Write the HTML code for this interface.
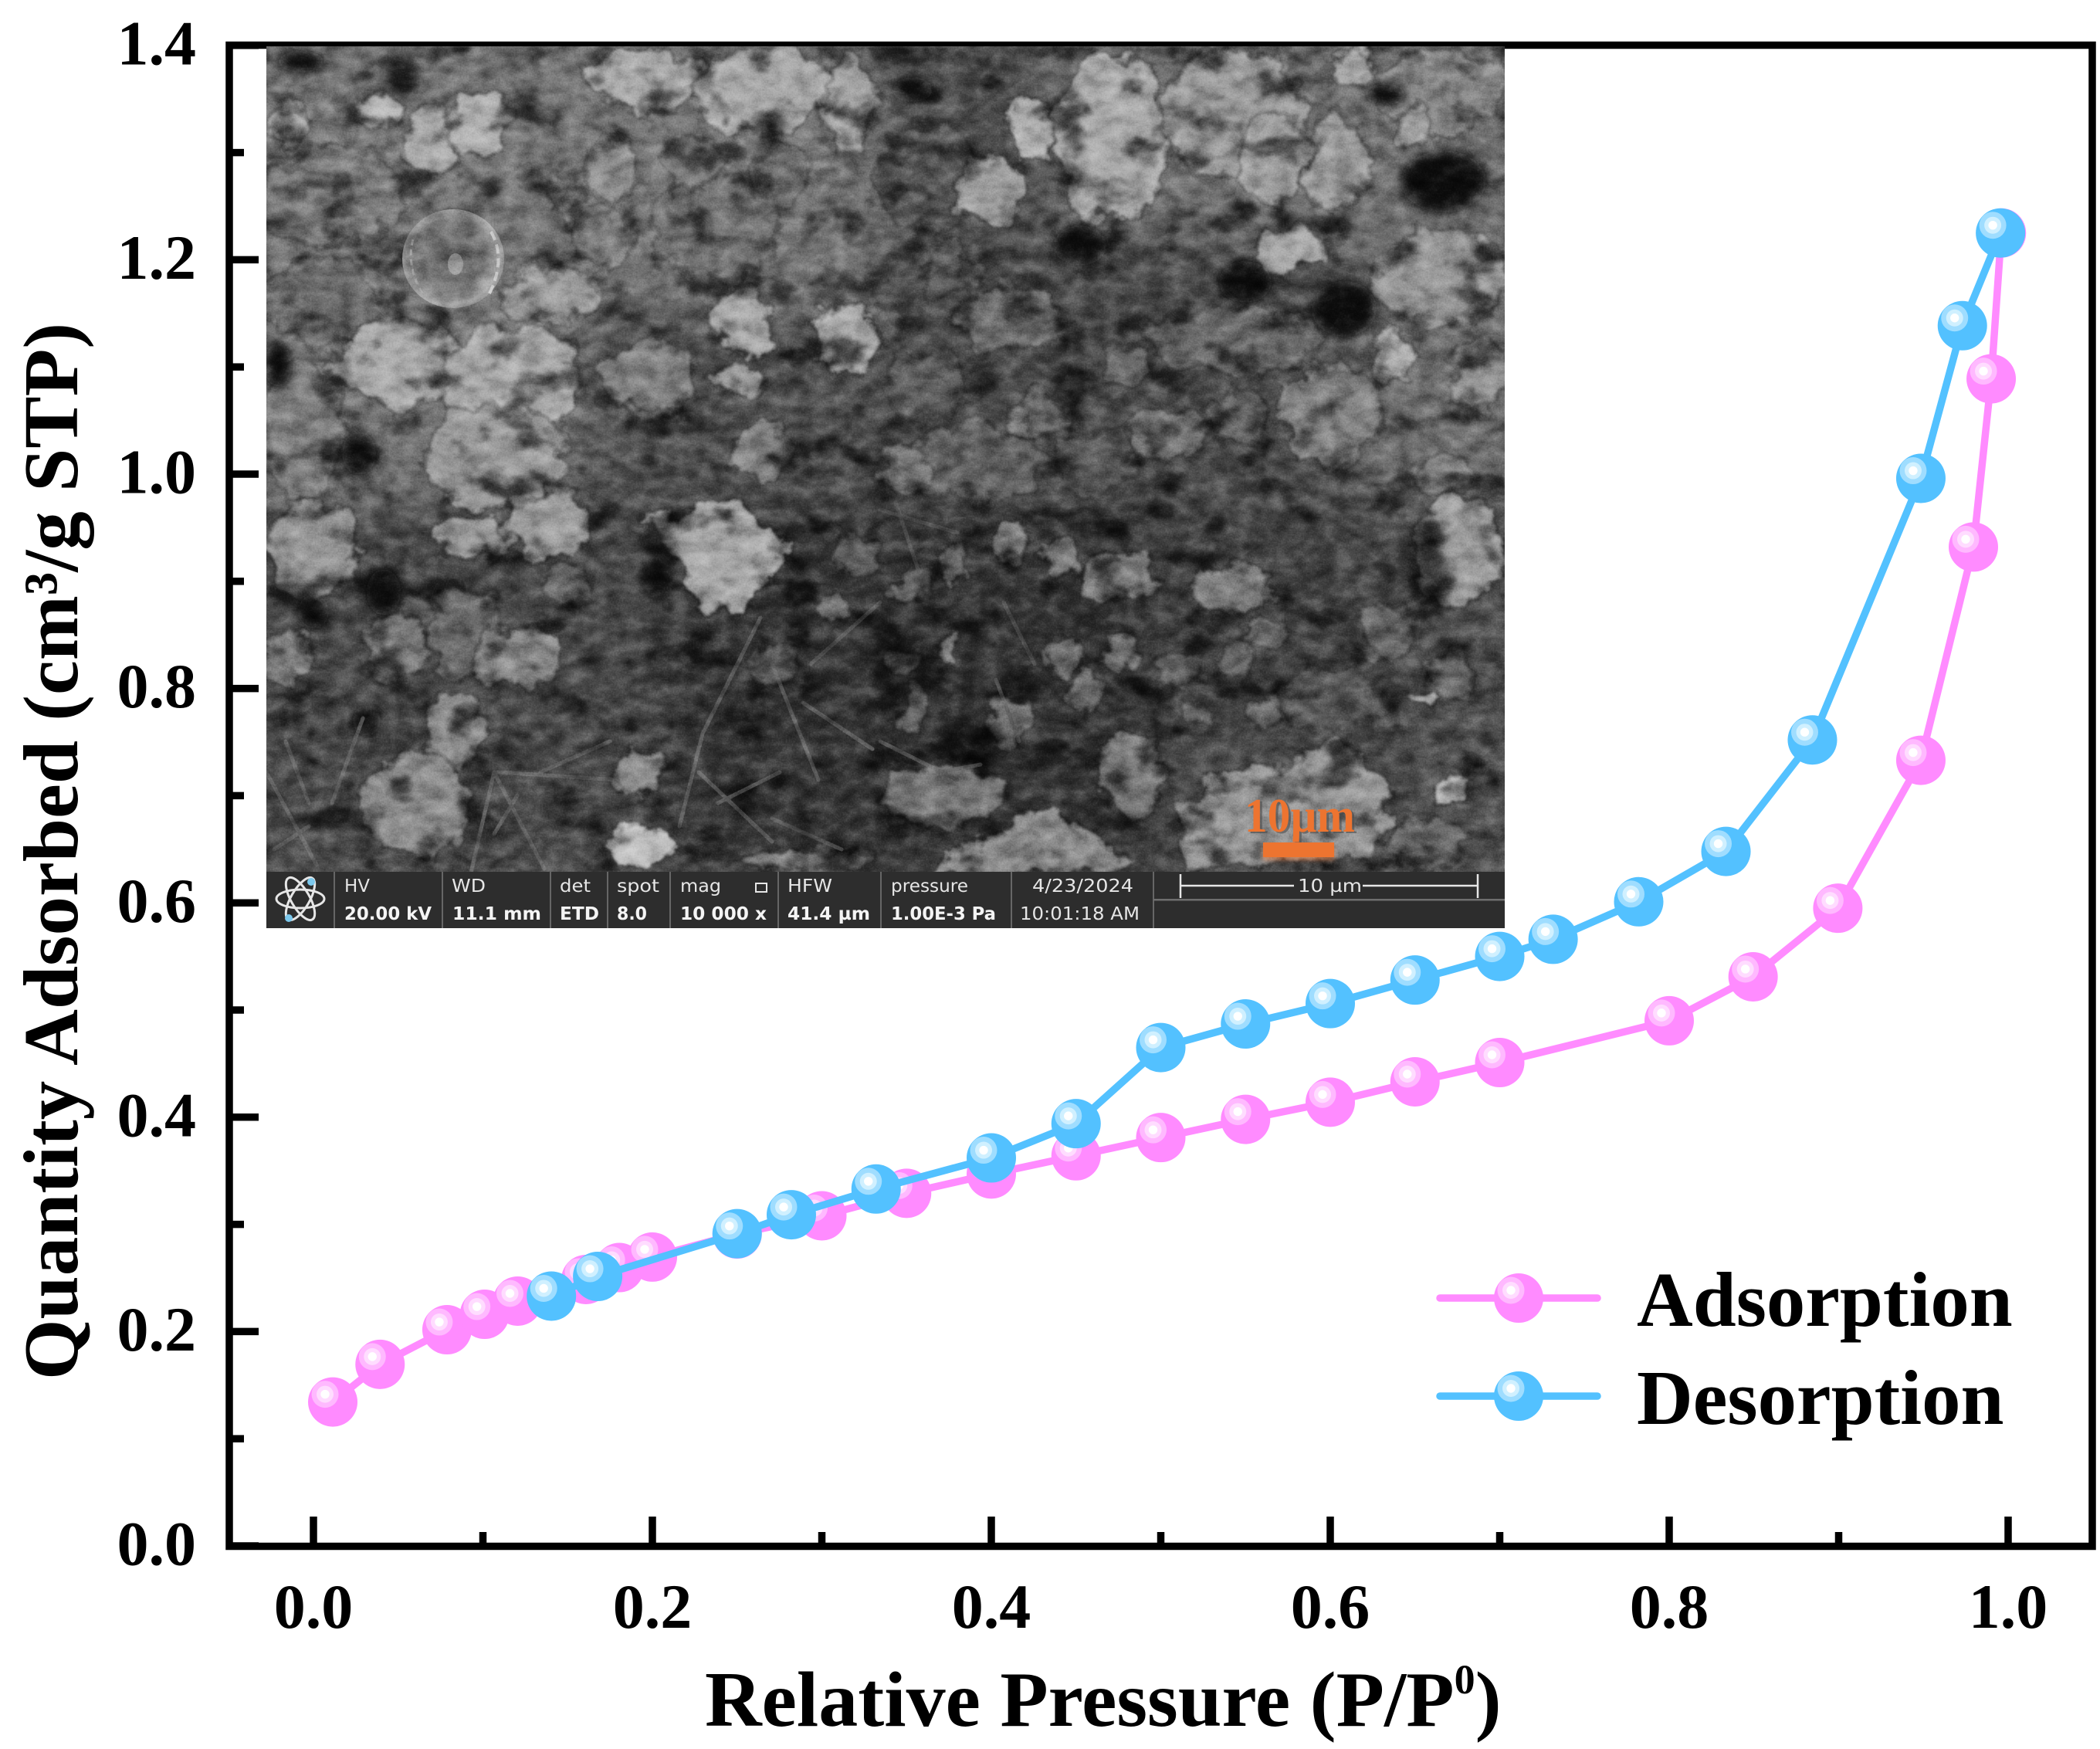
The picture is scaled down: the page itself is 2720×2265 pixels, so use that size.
<!DOCTYPE html>
<html lang="en">
<head>
<meta charset="utf-8">
<title>N2 adsorption-desorption isotherm with SEM inset</title>
<style>
html,body{margin:0;padding:0;background:#fff;width:2720px;height:2265px;overflow:hidden}
svg{display:block}
.serif{font-family:"Liberation Serif",serif;font-weight:bold;fill:#000}
.ban{font-family:"DejaVu Sans","Liberation Sans",sans-serif;fill:#e6e6e6;font-size:23px}
.banb{font-family:"DejaVu Sans","Liberation Sans",sans-serif;fill:#f4f4f4;font-size:23px;font-weight:bold}
</style>
</head>
<body>
<svg id="chart" xmlns="http://www.w3.org/2000/svg" width="2720" height="2265" viewBox="0 0 2720 2265">
<defs>
  <clipPath id="semClip"><rect x="345" y="60" width="1604" height="1069"/></clipPath>
  <radialGradient id="sphereShade" cx="46%" cy="46%" r="56%">
    <stop offset="0%" stop-color="#5e5e5e"/>
    <stop offset="62%" stop-color="#777777"/>
    <stop offset="90%" stop-color="#a4a4a4"/>
    <stop offset="100%" stop-color="#8c8c8c"/>
  </radialGradient>
  <filter id="zoneBlur" x="-20%" y="-20%" width="140%" height="140%"><feGaussianBlur stdDeviation="32"/></filter>
  <filter id="rough" x="0" y="0" width="100%" height="100%" filterUnits="userSpaceOnUse" primitiveUnits="userSpaceOnUse" color-interpolation-filters="sRGB">
    <feTurbulence type="fractalNoise" baseFrequency="0.028" numOctaves="5" seed="7" result="n"/>
    <feDisplacementMap in="SourceGraphic" in2="n" scale="46" xChannelSelector="R" yChannelSelector="G"/>
    <feGaussianBlur stdDeviation="1.4"/>
  </filter>
  <filter id="mottle" x="0" y="0" width="100%" height="100%" color-interpolation-filters="sRGB">
    <feTurbulence type="fractalNoise" baseFrequency="0.037 0.053" numOctaves="4" seed="11"/>
    <feColorMatrix type="matrix" values="1.5 0 0 0 -0.25  1.5 0 0 0 -0.25  1.5 0 0 0 -0.25  0 0 0 0 1"/>
  </filter>
  <filter id="crevice" x="0" y="0" width="100%" height="100%" color-interpolation-filters="sRGB">
    <feTurbulence type="fractalNoise" baseFrequency="0.017 0.023" numOctaves="4" seed="23"/>
    <feColorMatrix type="matrix" values="4.5 0 0 0 -1.1  4.5 0 0 0 -1.1  4.5 0 0 0 -1.1  0 0 0 0 1"/>
    <feGaussianBlur stdDeviation="1.5"/>
  </filter>
  <filter id="grain" x="0" y="0" width="100%" height="100%" color-interpolation-filters="sRGB">
    <feTurbulence type="fractalNoise" baseFrequency="0.5" numOctaves="2" seed="3"/>
    <feColorMatrix type="matrix" values="1.4 0 0 0 -0.2  1.4 0 0 0 -0.2  1.4 0 0 0 -0.2  0 0 0 0 1"/>
  </filter>
  <filter id="softHole" x="-30%" y="-30%" width="160%" height="160%"><feGaussianBlur stdDeviation="7"/></filter>
  <filter id="barGlow" x="-20%" y="-40%" width="140%" height="200%"><feGaussianBlur stdDeviation="3"/></filter>
</defs>

<rect x="0" y="0" width="2720" height="2265" fill="#ffffff"/>
<rect x="297" y="58.5" width="2413" height="1944" fill="none" stroke="#000" stroke-width="9.5"/>
<g id="ticks"></g>
<g id="tickLabels"></g>

<text class="serif" font-size="101" transform="translate(100,1787) rotate(-90)" textLength="1369" lengthAdjust="spacing">Quantity Adsorbed (cm³/g STP)</text>
<text class="serif" font-size="102" x="913" y="2235">Relative Pressure (P/P<tspan font-size="54" dy="-42">0</tspan><tspan dy="42">)</tspan></text>

<g clip-path="url(#semClip)">
  <rect x="345" y="60" width="1604" height="1069" fill="#505050"/>
  <g filter="url(#zoneBlur)">
    <rect x="300" y="40" width="460" height="600" fill="#747474"/>
    <rect x="760" y="40" width="380" height="360" fill="#767676"/>
    <rect x="1140" y="40" width="220" height="260" fill="#505050"/>
    <rect x="1360" y="40" width="620" height="260" fill="#707070"/>
    <rect x="1140" y="300" width="620" height="340" fill="#4c4c4c"/>
    <rect x="1760" y="300" width="220" height="340" fill="#707070"/>
    <rect x="300" y="640" width="560" height="500" fill="#4a4a4a"/>
    <rect x="860" y="660" width="640" height="470" fill="#343434"/>
    <rect x="1500" y="660" width="300" height="300" fill="#424242"/>
    <rect x="1800" y="640" width="180" height="500" fill="#505050"/>
  </g>
  <g filter="url(#rough)" stroke="#000" stroke-opacity=".22" stroke-width="7">
    <!-- mid-tone masses -->
    <ellipse cx="428" cy="254" rx="92" ry="66" fill="#7c7c7c"/>
    <ellipse cx="416" cy="390" rx="80" ry="50" fill="#6c6c6c"/>
    <ellipse cx="391" cy="556" rx="55" ry="90" fill="#7e7e7e"/>
    <ellipse cx="927" cy="295" rx="85" ry="68" fill="#727272"/>
    <ellipse cx="1310" cy="411" rx="68" ry="42" fill="#6b6b6b"/>
    <ellipse cx="1600" cy="442" rx="110" ry="42" fill="#686868"/>
    <ellipse cx="1725" cy="540" rx="65" ry="66" fill="#808080"/>
    <ellipse cx="1200" cy="230" rx="70" ry="70" fill="#565656"/>
    <ellipse cx="780" cy="308" rx="40" ry="42" fill="#808080"/>
    <ellipse cx="842" cy="486" rx="64" ry="48" fill="#7e7e7e"/>
    <ellipse cx="988" cy="585" rx="40" ry="36" fill="#848484"/>
    <ellipse cx="603" cy="820" rx="48" ry="56" fill="#6a6a6a"/>
    <ellipse cx="512" cy="838" rx="42" ry="42" fill="#7a7a7a"/>
    <ellipse cx="1796" cy="816" rx="38" ry="40" fill="#686868"/>
    <ellipse cx="1726" cy="906" rx="72" ry="38" fill="#565656"/>
    <ellipse cx="1597" cy="763" rx="48" ry="34" fill="#7e7e7e"/>
    <ellipse cx="1448" cy="746" rx="50" ry="30" fill="#808080"/>
    <ellipse cx="1464" cy="1000" rx="44" ry="56" fill="#7a7a7a"/>
    <ellipse cx="1218" cy="1030" rx="80" ry="40" fill="#747474"/>
    <ellipse cx="1260" cy="600" rx="90" ry="50" fill="#636363"/>
    <ellipse cx="1420" cy="600" rx="60" ry="40" fill="#575757"/>
    <ellipse cx="1200" cy="500" rx="50" ry="45" fill="#5c5c5c"/>
    <!-- small grains, lower centre and right -->
    <ellipse cx="1180" cy="760" rx="20" ry="18" fill="#666"/>
    <ellipse cx="1240" cy="730" rx="16" ry="20" fill="#6c6c6c"/>
    <ellipse cx="1310" cy="700" rx="24" ry="26" fill="#7c7c7c"/>
    <ellipse cx="1375" cy="720" rx="22" ry="22" fill="#777"/>
    <ellipse cx="1170" cy="860" rx="24" ry="24" fill="#707070"/>
    <ellipse cx="1185" cy="920" rx="20" ry="28" fill="#666"/>
    <ellipse cx="1380" cy="850" rx="26" ry="24" fill="#6c6c6c"/>
    <ellipse cx="1450" cy="840" rx="22" ry="26" fill="#6e6e6e"/>
    <ellipse cx="1520" cy="870" rx="30" ry="26" fill="#686868"/>
    <ellipse cx="1600" cy="850" rx="24" ry="26" fill="#6c6c6c"/>
    <ellipse cx="1550" cy="920" rx="22" ry="22" fill="#646464"/>
    <ellipse cx="1405" cy="900" rx="26" ry="22" fill="#6a6a6a"/>
    <ellipse cx="1640" cy="925" rx="20" ry="24" fill="#686868"/>
    <ellipse cx="1660" cy="1000" rx="14" ry="16" fill="#7c7c7c"/>
    <ellipse cx="1310" cy="930" rx="26" ry="30" fill="#6e6e6e"/>
    <ellipse cx="1230" cy="840" rx="14" ry="16" fill="#858585"/>
    <ellipse cx="1110" cy="720" rx="28" ry="24" fill="#606060"/>
    <ellipse cx="1080" cy="790" rx="18" ry="22" fill="#6a6a6a"/>
    <ellipse cx="1000" cy="860" rx="30" ry="22" fill="#5e5e5e"/>
    <ellipse cx="740" cy="760" rx="34" ry="26" fill="#666"/>
    <ellipse cx="1880" cy="880" rx="30" ry="40" fill="#6a6a6a"/>
    <ellipse cx="1850" cy="1090" rx="50" ry="30" fill="#6e6e6e"/>
    <ellipse cx="1350" cy="540" rx="36" ry="30" fill="#707070"/>
    <ellipse cx="1510" cy="560" rx="46" ry="34" fill="#707070"/>
    <ellipse cx="1600" cy="540" rx="40" ry="36" fill="#6a6a6a"/>
    <ellipse cx="1175" cy="610" rx="30" ry="28" fill="#7c7c7c"/>
    <ellipse cx="1460" cy="480" rx="30" ry="24" fill="#666"/>
    <ellipse cx="1230" cy="350" rx="40" ry="30" fill="#5a5a5a"/>
    <ellipse cx="730" cy="250" rx="26" ry="28" fill="#8a8a8a"/>
    <ellipse cx="900" cy="210" rx="40" ry="34" fill="#7a7a7a"/>
    <ellipse cx="1010" cy="230" rx="34" ry="40" fill="#6c6c6c"/>
    <!-- bright top flakes -->
    <ellipse cx="835" cy="102" rx="70" ry="42" fill="#a8a8a8"/>
    <ellipse cx="990" cy="116" rx="90" ry="58" fill="#a8a8a8"/>
    <ellipse cx="1102" cy="130" rx="30" ry="62" fill="#a2a2a2"/>
    <ellipse cx="560" cy="185" rx="38" ry="48" fill="#a8a8a8"/>
    <ellipse cx="622" cy="162" rx="40" ry="40" fill="#b0b0b0"/>
    <ellipse cx="489" cy="143" rx="26" ry="20" fill="#b4b4b4"/>
    <ellipse cx="374" cy="160" rx="22" ry="26" fill="#acacac"/>
    <ellipse cx="792" cy="218" rx="34" ry="42" fill="#8e8e8e"/>
    <ellipse cx="1441" cy="176" rx="76" ry="112" fill="#a8a8a8"/>
    <ellipse cx="1336" cy="170" rx="30" ry="44" fill="#b0b0b0"/>
    <ellipse cx="1286" cy="247" rx="48" ry="46" fill="#9c9c9c"/>
    <ellipse cx="1598" cy="147" rx="92" ry="84" fill="#989898"/>
    <ellipse cx="1650" cy="205" rx="44" ry="58" fill="#9e9e9e"/>
    <ellipse cx="1734" cy="210" rx="40" ry="56" fill="#989898"/>
    <ellipse cx="1752" cy="90" rx="32" ry="24" fill="#a8a8a8"/>
    <ellipse cx="1866" cy="118" rx="84" ry="56" fill="#888888"/>
    <ellipse cx="1833" cy="168" rx="24" ry="26" fill="#a0a0a0"/>
    <ellipse cx="1668" cy="321" rx="48" ry="30" fill="#a8a8a8"/>
    <ellipse cx="1868" cy="362" rx="86" ry="62" fill="#989898"/>
    <ellipse cx="1918" cy="486" rx="36" ry="52" fill="#949494"/>
    <ellipse cx="1804" cy="461" rx="26" ry="32" fill="#acacac"/>
    <ellipse cx="1867" cy="615" rx="42" ry="26" fill="#848484"/>
    <!-- central-left flake group -->
    <ellipse cx="712" cy="380" rx="66" ry="32" fill="#9a9a9a"/>
    <ellipse cx="1095" cy="436" rx="42" ry="44" fill="#acacac"/>
    <ellipse cx="962" cy="415" rx="36" ry="46" fill="#a8a8a8"/>
    <ellipse cx="958" cy="490" rx="30" ry="22" fill="#9a9a9a"/>
    <ellipse cx="520" cy="470" rx="90" ry="56" fill="#a8a8a8"/>
    <ellipse cx="660" cy="495" rx="90" ry="75" fill="#a8a8a8"/>
    <ellipse cx="640" cy="590" rx="90" ry="66" fill="#9a9a9a"/>
    <ellipse cx="710" cy="680" rx="60" ry="42" fill="#9c9c9c"/>
    <ellipse cx="405" cy="712" rx="60" ry="64" fill="#949494"/>
    <ellipse cx="610" cy="695" rx="46" ry="30" fill="#989898"/>
    <ellipse cx="380" cy="850" rx="32" ry="32" fill="#848484"/>
    <ellipse cx="672" cy="850" rx="56" ry="40" fill="#8a8a8a"/>
    <ellipse cx="585" cy="948" rx="40" ry="48" fill="#8a8a8a"/>
    <ellipse cx="538" cy="1042" rx="70" ry="62" fill="#8a8a8a"/>
    <ellipse cx="827" cy="1000" rx="28" ry="34" fill="#8a8a8a"/>
    <ellipse cx="832" cy="1096" rx="36" ry="32" fill="#c0c0c0"/>
    <polygon points="837,670 965,650 1024,717 952,807 901,770" fill="#a8a8a8"/>
    <!-- lower-right large masses -->
    <polygon points="1532,1050 1574,1000 1663,990 1731,955 1794,1012 1799,1073 1768,1107 1527,1135" fill="#949494"/>
    <polygon points="1234,1105 1365,1045 1475,1125 1187,1135" fill="#8a8a8a"/>
    <ellipse cx="1888" cy="715" rx="58" ry="72" fill="#9a9a9a"/>
    <ellipse cx="1048" cy="1118" rx="90" ry="18" fill="#808080"/>
    <ellipse cx="1880" cy="1023" rx="22" ry="20" fill="#b8b8b8"/>
    <ellipse cx="1846" cy="908" rx="15" ry="12" fill="#b0b0b0"/>
    <ellipse cx="1640" cy="820" rx="26" ry="18" fill="#6a6a6a"/>
  </g>
  <rect x="345" y="60" width="1604" height="1069" filter="url(#crevice)" style="mix-blend-mode:multiply" opacity=".6"/>
  <g filter="url(#softHole)" fill="#090909">
    <ellipse cx="465" cy="587" rx="22" ry="28"/>
    <ellipse cx="360" cy="473" rx="18" ry="28"/>
    <ellipse cx="1741" cy="400" rx="42" ry="36"/>
    <ellipse cx="1399" cy="318" rx="34" ry="26"/>
    <ellipse cx="1613" cy="365" rx="34" ry="27"/>
    <ellipse cx="1870" cy="235" rx="55" ry="40"/>
    <ellipse cx="1794" cy="122" rx="26" ry="14"/>
    <ellipse cx="1182" cy="116" rx="26" ry="16"/>
    <ellipse cx="406" cy="792" rx="20" ry="22"/>
    <ellipse cx="497" cy="767" rx="22" ry="30"/>
    <ellipse cx="475" cy="933" rx="18" ry="20"/>
    <ellipse cx="1450" cy="1010" rx="14" ry="12" opacity=".6"/>
    <ellipse cx="1175" cy="868" rx="50" ry="40" opacity=".5"/>
    <ellipse cx="1260" cy="960" rx="40" ry="30" opacity=".6"/>
    <ellipse cx="1845" cy="730" rx="26" ry="60" opacity=".6"/>
    <ellipse cx="520" cy="100" rx="22" ry="30" opacity=".7"/>
    <ellipse cx="390" cy="80" rx="30" ry="14"/>
    <ellipse cx="1000" cy="170" rx="12" ry="24"/>
    <ellipse cx="372" cy="290" rx="30" ry="10" opacity=".5"/>
    <ellipse cx="860" cy="720" rx="16" ry="50" opacity=".5"/>
  </g>
  <g stroke="#6e6e6e" stroke-width="5" stroke-linecap="round" fill="none" opacity=".6">
    <path d="M610 1130 L640 1000 M640 1000 L705 1125 M645 1000 L800 1010 M700 1000 L790 960 M670 1030 L640 1080"/>
    <path d="M880 1070 L910 950 L985 800 M905 1000 L1000 1090 M930 1040 L1010 1000 M1000 860 L1060 1010 M1040 910 L1130 970"/>
    <path d="M345 1000 L410 1120 M370 960 L400 1040 M430 1040 L470 930 M355 1100 L400 1070"/>
    <path d="M1140 660 L1240 690 M1160 650 L1190 740 M1140 960 L1240 1010 M1050 860 L1140 780 M1090 1100 L1000 1060" stroke="#5c5c5c"/>
    <path d="M1215 1000 L1270 990 M1290 880 L1320 960 M1300 780 L1340 860" stroke="#5c5c5c"/>
  </g>
  <g>
    <ellipse cx="587" cy="335" rx="66" ry="64" fill="url(#sphereShade)"/>
    <ellipse cx="590" cy="342" rx="10" ry="14" fill="#959595"/>
    <path d="M636 300 Q656 335 634 380" fill="none" stroke="#c8c8c8" stroke-width="4" stroke-dasharray="12 6"/>
    <path d="M535 310 Q525 345 550 385" fill="none" stroke="#a4a4a4" stroke-width="3" stroke-dasharray="8 5"/>
  </g>
  <rect x="345" y="60" width="1604" height="1069" filter="url(#mottle)" style="mix-blend-mode:soft-light" opacity=".55"/>
  <rect x="345" y="60" width="1604" height="1069" filter="url(#grain)" style="mix-blend-mode:soft-light" opacity=".22"/>
</g>

<g>
  <rect x="1636" y="1096" width="92" height="18" fill="#ed7430" opacity=".5" filter="url(#barGlow)"/>
  <text x="1615" y="1079" font-family="'Liberation Serif',serif" font-weight="bold" font-size="62" fill="#4a4a4a" opacity=".6" textLength="143" lengthAdjust="spacingAndGlyphs">10µm</text>
  <text x="1612" y="1077" font-family="'Liberation Serif',serif" font-weight="bold" font-size="62" fill="#ed7430" textLength="143" lengthAdjust="spacingAndGlyphs">10µm</text>
  <rect x="1636" y="1091" width="92" height="19" fill="#ed7430"/>
</g>

<g>
  <rect x="345" y="1129" width="1604" height="73" fill="#2d2d2d"/>
  <g stroke="#7a7a7a" stroke-width="1.5">
    <line x1="433" y1="1129" x2="433" y2="1202"/>
    <line x1="573" y1="1129" x2="573" y2="1202"/>
    <line x1="713" y1="1129" x2="713" y2="1202"/>
    <line x1="787" y1="1129" x2="787" y2="1202"/>
    <line x1="868" y1="1129" x2="868" y2="1202"/>
    <line x1="1008" y1="1129" x2="1008" y2="1202"/>
    <line x1="1141" y1="1129" x2="1141" y2="1202"/>
    <line x1="1310" y1="1129" x2="1310" y2="1202"/>
    <line x1="1494" y1="1129" x2="1494" y2="1202"/>
  </g>
  <g fill="none" stroke="#e6e6e6" stroke-width="3">
    <ellipse cx="389" cy="1164" rx="31" ry="12"/>
    <ellipse cx="389" cy="1164" rx="31" ry="12" transform="rotate(60 389 1164)"/>
    <ellipse cx="389" cy="1164" rx="31" ry="12" transform="rotate(-60 389 1164)"/>
    <circle cx="403" cy="1142" r="5" fill="#7cc8ec" stroke="none"/>
    <circle cx="374" cy="1189" r="5" fill="#7cc8ec" stroke="none"/>
  </g>
  <text class="ban" x="446" y="1155" textLength="33" lengthAdjust="spacingAndGlyphs">HV</text>
  <text class="ban" x="585" y="1155" textLength="44" lengthAdjust="spacingAndGlyphs">WD</text>
  <text class="ban" x="725" y="1155" textLength="40" lengthAdjust="spacingAndGlyphs">det</text>
  <text class="ban" x="799" y="1155" textLength="55" lengthAdjust="spacingAndGlyphs">spot</text>
  <text class="ban" x="881" y="1155" textLength="53" lengthAdjust="spacingAndGlyphs">mag</text>
  <rect x="979" y="1144" width="14" height="11" fill="none" stroke="#e6e6e6" stroke-width="2"/>
  <text class="ban" x="1020" y="1155" textLength="58" lengthAdjust="spacingAndGlyphs">HFW</text>
  <text class="ban" x="1154" y="1155" textLength="100" lengthAdjust="spacingAndGlyphs">pressure</text>
  <text class="ban" x="1337" y="1155" textLength="131" lengthAdjust="spacingAndGlyphs">4/23/2024</text>
  <text class="banb" x="446" y="1191" textLength="113" lengthAdjust="spacingAndGlyphs">20.00 kV</text>
  <text class="banb" x="586" y="1191" textLength="115" lengthAdjust="spacingAndGlyphs">11.1 mm</text>
  <text class="banb" x="725" y="1191" textLength="51" lengthAdjust="spacingAndGlyphs">ETD</text>
  <text class="banb" x="799" y="1191" textLength="39" lengthAdjust="spacingAndGlyphs">8.0</text>
  <text class="banb" x="881" y="1191" textLength="112" lengthAdjust="spacingAndGlyphs">10 000 x</text>
  <text class="banb" x="1020" y="1191" textLength="107" lengthAdjust="spacingAndGlyphs">41.4 µm</text>
  <text class="banb" x="1154" y="1191" textLength="136" lengthAdjust="spacingAndGlyphs">1.00E-3 Pa</text>
  <text class="ban" x="1321" y="1191" textLength="155" lengthAdjust="spacingAndGlyphs">10:01:18 AM</text>
  <g stroke="#e6e6e6" stroke-width="2.5">
    <line x1="1529" y1="1132" x2="1529" y2="1163"/>
    <line x1="1914" y1="1132" x2="1914" y2="1163"/>
    <line x1="1529" y1="1147" x2="1676" y2="1147"/>
    <line x1="1765" y1="1147" x2="1914" y2="1147"/>
  </g>
  <text class="ban" x="1681" y="1155" textLength="83" lengthAdjust="spacingAndGlyphs">10 µm</text>
  <rect x="1494" y="1164" width="455" height="2.5" fill="#6e6e6e"/>
</g>

<g id="series"></g>

<g>
  <g>
    <line x1="1865" y1="1681" x2="2069" y2="1681" stroke="#ff8bff" stroke-width="9.5" stroke-linecap="round"/>
    <circle cx="1967" cy="1681" r="32" fill="#ff8bff"/>
    <circle cx="1957" cy="1671" r="17.5" fill="#ffb9ff"/>
    <circle cx="1957" cy="1671" r="11" fill="#ffdcff"/>
    <circle cx="1957" cy="1671" r="5.7" fill="#ffffff"/>
    <text class="serif" font-size="100.7" x="2120" y="1717">Adsorption</text>
  </g>
  <g>
    <line x1="1865" y1="1808" x2="2069" y2="1808" stroke="#53c1ff" stroke-width="9.5" stroke-linecap="round"/>
    <circle cx="1967" cy="1808" r="32" fill="#53c1ff"/>
    <circle cx="1957" cy="1798" r="17.5" fill="#9fddff"/>
    <circle cx="1957" cy="1798" r="11" fill="#d0f0ff"/>
    <circle cx="1957" cy="1798" r="5.7" fill="#ffffff"/>
    <text class="serif" font-size="100.7" x="2120" y="1844">Desorption</text>
  </g>
</g>
</svg>

<script>
const adsorptionX = [0.0114,0.0393,0.0788,0.101,0.1205,0.1608,0.1805,0.2,0.25,0.3,0.35,0.4,0.45,0.5,0.55,0.6,0.65,0.7,0.8,0.8495,0.8995,0.9485,0.9795,0.99,0.996];
const adsorptionY = [0.1343,0.1694,0.2017,0.2161,0.2284,0.2486,0.2597,0.2695,0.291,0.308,0.329,0.347,0.364,0.381,0.398,0.414,0.433,0.451,0.49,0.531,0.595,0.733,0.932,1.0889,1.225];
const desorptionX = [0.9955,0.973,0.9485,0.8845,0.8335,0.782,0.7315,0.7,0.65,0.6,0.55,0.5,0.45,0.4,0.332,0.282,0.25,0.1677,0.1404];
const desorptionY = [1.225,1.1385,0.996,0.752,0.648,0.601,0.566,0.55,0.528,0.506,0.487,0.465,0.394,0.362,0.333,0.309,0.2913,0.2514,0.2331];
const xTickValues = [0,0.1,0.2,0.3,0.4,0.5,0.6,0.7,0.8,0.9,1.0];
const yTickValues = [0,0.1,0.2,0.3,0.4,0.5,0.6,0.7,0.8,0.9,1.0,1.1,1.2,1.3,1.4];
const xTickLabels = ["0.0","","0.2","","0.4","","0.6","","0.8","","1.0"];
const yTickLabels = ["0.0","","0.2","","0.4","","0.6","","0.8","","1.0","","1.2","","1.4"];

const NS = "http://www.w3.org/2000/svg";
function xScale(v){ return 406 + 2195 * v; }
function yScale(v){ return 2002 - 1388 * v; }
function el(tag, attrs, parent){
  const e = document.createElementNS(NS, tag);
  for (const k in attrs) e.setAttribute(k, attrs[k]);
  parent.appendChild(e);
  return e;
}
const ticksG = document.getElementById("ticks");
const labelsG = document.getElementById("tickLabels");
xTickValues.forEach(function(v, i){
  const major = xTickLabels[i] !== "";
  const t = el("line", {x1:xScale(v), x2:xScale(v), y1:1998, y2:major?1964:1984, stroke:"#000", "stroke-width":9.5}, ticksG);
  
  
  if (major){
    const l = el("text", {x:xScale(v), y:2108, "text-anchor":"middle", "font-size":82, class:"serif"}, labelsG);
    l.textContent = xTickLabels[i];
    
    
  }
});
yTickValues.forEach(function(v, i){
  const major = yTickLabels[i] !== "";
  const t = el("line", {y1:yScale(v), y2:yScale(v), x1:300, x2:major?335:316, stroke:"#000", "stroke-width":9.5}, ticksG);
  
  
  if (major){
    const l = el("text", {x:254, y:yScale(v)+24.6, "text-anchor":"end", "font-size":82, class:"serif"}, labelsG);
    l.textContent = yTickLabels[i];
    
    
  }
});
function drawSeries(xs, ys, base, outer, mid, name){
  const seriesRoot = document.getElementById("series");
  const g = el("g", {}, seriesRoot);
  
  
  const pts = xs.map(function(x, i){ return xScale(x).toFixed(1) + "," + yScale(ys[i]).toFixed(1); }).join(" ");
  const line = el("polyline", {points:pts, fill:"none", stroke:base, "stroke-width":9.5, "stroke-linejoin":"round"}, g);
  
  
  xs.forEach(function(x, i){
    const cx = xScale(x), cy = yScale(ys[i]);
    const m = el("g", {}, g);
    
    
    el("circle", {cx:cx, cy:cy, r:32, fill:base}, m);
    el("circle", {cx:cx-10, cy:cy-10, r:17.5, fill:outer}, m);
    el("circle", {cx:cx-10, cy:cy-10, r:11, fill:mid}, m);
    el("circle", {cx:cx-10, cy:cy-10, r:5.7, fill:"#fff"}, m);
  });
}
drawSeries(adsorptionX, adsorptionY, "#ff8bff", "#ffb9ff", "#ffdcff", "adsorption");
drawSeries(desorptionX, desorptionY, "#53c1ff", "#9fddff", "#d0f0ff", "desorption");
</script>
</body>
</html>
